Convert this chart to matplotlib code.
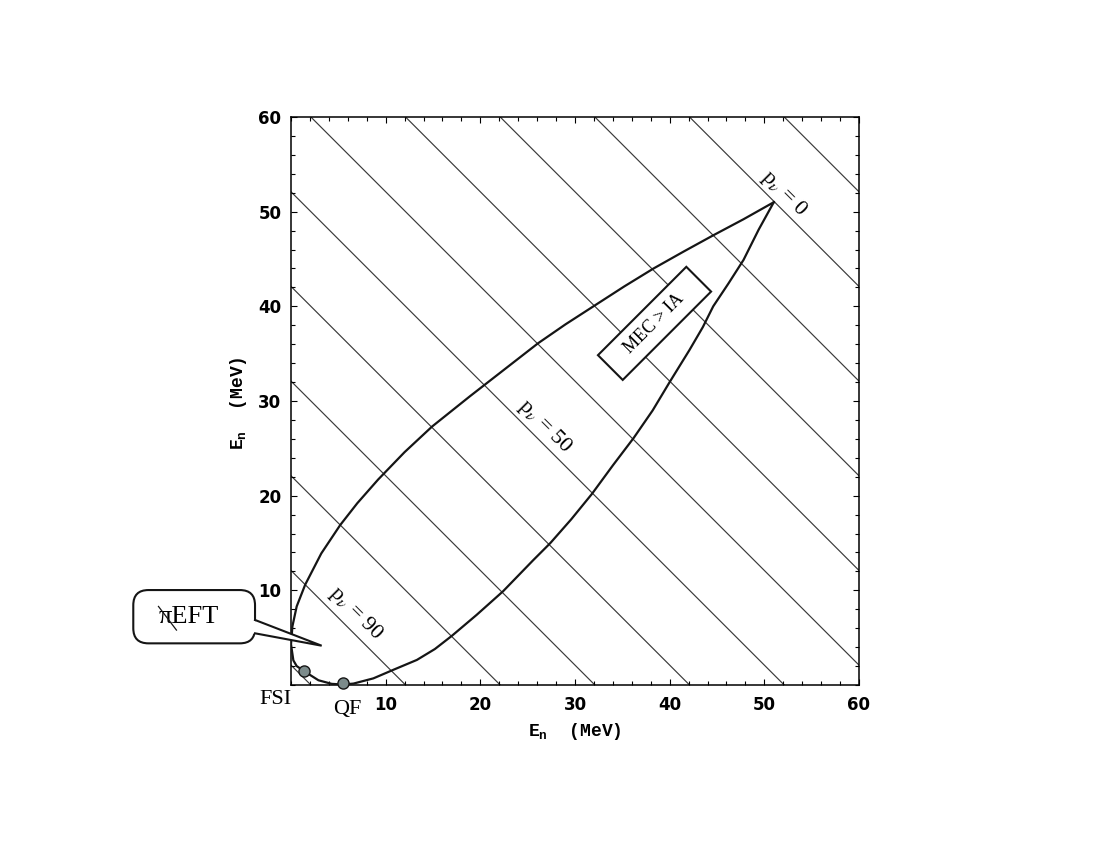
import numpy as np
import matplotlib
matplotlib.use("Agg")
import matplotlib.pyplot as plt
from matplotlib.patches import FancyBboxPatch, Polygon, Rectangle
from matplotlib.ticker import MultipleLocator

plt.rcParams['mathtext.fontset'] = 'custom'
plt.rcParams['mathtext.rm'] = 'Liberation Mono:bold'
plt.rcParams['mathtext.bf'] = 'Liberation Mono:bold'
plt.rcParams['mathtext.it'] = 'Liberation Mono:bold'

# ---- data ----
# kinematic locus (E1, E2) in MeV, closed curve starting at the tip
locus_x = [51.0, 47.8, 44.6, 41.5, 38.3, 35.2, 32.1, 29.0, 26.1, 22.5, 18.9, 14.9,
           12.0, 9.2, 7.0, 5.2, 3.2, 1.5, 0.6, 0.15, 0.0, 0.25, 0.6, 1.4, 2.9, 4.3,
           5.5, 6.6, 8.7, 10.8, 13.3, 15.2, 17.0, 19.6, 22.4, 25.6, 27.4, 29.6,
           31.8, 34.0, 36.2, 38.2, 40.0, 42.1, 43.5, 44.6, 46.2, 47.8, 49.4, 51.0]
locus_y = [51.0, 49.2, 47.5, 45.8, 44.0, 42.1, 40.1, 38.1, 36.1, 33.3, 30.5, 27.3,
           24.6, 21.7, 19.2, 16.9, 13.9, 10.6, 8.3, 6.2, 4.3, 2.6, 2.0, 1.45, 0.5, 0.12,
           0.05, 0.15, 0.7, 1.6, 2.65, 3.8, 5.2, 7.4, 9.9, 13.2, 15.0, 17.5,
           20.2, 23.2, 26.1, 29.0, 32.0, 35.4, 37.8, 40.0, 42.4, 44.9, 48.1, 51.0]

# lines of constant p_nu : E1 + E2 = const
line_sums = [2.1, 12.1, 22.1, 32.1, 42.1, 52.1, 62.1, 72.1, 82.1, 92.1, 102.1, 112.1]

# special points
point_names = ['FSI', 'QF']
point_x = [1.4, 5.46]
point_y = [1.5, 0.18]

ticks = [10, 20, 30, 40, 50, 60]

# ---- figure ----
fig = plt.figure(figsize=(11, 8.5), dpi=100)
ax = fig.add_axes([291/1100, 1-685/850, 568/1100, 568/850])
ax.set_xlim(0, 60)
ax.set_ylim(0, 60)

xs = np.array([0.0, 60.0])
for c in line_sums:
    ax.plot(xs, c - xs, color='#3a3a3a', lw=0.85, zorder=1)

ax.plot(locus_x, locus_y, color='#151515', lw=1.6, zorder=3, solid_joinstyle='round')

ax.plot(point_x, point_y, 'o', ms=8, mfc='#7c8b8b', mec='#151515', mew=1.0,
        zorder=5, clip_on=False)

# tick styling
ax.set_xticks(ticks)
ax.set_yticks(ticks)
ax.xaxis.set_minor_locator(MultipleLocator(2))
ax.yaxis.set_minor_locator(MultipleLocator(2))
ax.tick_params(which='both', direction='in', top=True, right=True, width=0.8)
ax.tick_params(which='major', length=4)
ax.tick_params(which='minor', length=3)
ax.tick_params(axis='x', pad=8)
ax.tick_params(axis='y', pad=7)
for lab in ax.get_xticklabels() + ax.get_yticklabels():
    lab.set_fontfamily('DejaVu Sans')
    lab.set_fontweight('bold')
    lab.set_fontsize(12)
for sp in ax.spines.values():
    sp.set_linewidth(1.1)

ax.set_xlabel(r'E$_\mathrm{n}$  (MeV)', fontfamily='Liberation Mono',
              fontweight='bold', fontsize=13)
ax.set_ylabel(r'E$_\mathrm{n}$  (MeV)', fontfamily='Liberation Mono',
              fontweight='bold', fontsize=13)
ax.xaxis.set_label_coords(0.5, -0.064)
ax.yaxis.set_label_coords(-0.074, 0.4965)

serif = 'Liberation Serif'
# p_nu labels
for txt, (tx, ty) in [('p$_\\nu$ = 0', (52.1, 51.9)),
                      ('p$_\\nu$ = 50', (26.8, 27.3)),
                      ('p$_\\nu$ = 90', (6.8, 7.6))]:
    t = ax.text(tx, ty, txt, rotation=-45, ha='center', va='center',
                fontsize=16, fontfamily=serif, zorder=6)
    t.set_math_fontfamily('stix')

# MEC > IA box
mec_cx, mec_cy, mec_len, mec_wid = 38.4, 38.2, 13.2, 3.7
ax.add_patch(Rectangle((mec_cx - mec_len / 2, mec_cy - mec_wid / 2), mec_len, mec_wid,
                       angle=45, rotation_point='center', fc='white', ec='#151515',
                       lw=1.5, zorder=5))
ax.text(mec_cx, mec_cy, 'MEC > IA', rotation=45, ha='center', va='center',
        fontsize=13, fontfamily=serif, zorder=6)

# FSI / QF labels
ax.text(-1.6, -1.5, point_names[0], ha='center', va='center', fontsize=16,
        fontfamily=serif, clip_on=False)
ax.text(5.9, -2.6, point_names[1], ha='center', va='center', fontsize=16,
        fontfamily=serif, clip_on=False)

# speech bubble with pionless EFT
bx0, bx1, by0, by1 = -16.66, -3.80, 4.40, 10.03
box = FancyBboxPatch((bx0 + 1.3, by0 + 1.3), (bx1 - bx0) - 2.6, (by1 - by0) - 2.6,
                     boxstyle='round,pad=1.3,rounding_size=1.6',
                     fc='white', ec='#151515', lw=1.5, clip_on=False, zorder=4)
ax.add_patch(box)
tip = (3.24, 4.15)
wedge_top, wedge_bot = 6.87, 5.46
wedge = Polygon([(bx1 - 0.3, wedge_top), tip, (bx1 - 0.3, wedge_bot)], closed=True,
                fc='white', ec='none', clip_on=False, zorder=4.5)
ax.add_patch(wedge)
ax.plot([bx1, tip[0], bx1], [wedge_top, tip[1], wedge_bot], color='#151515',
        lw=1.5, clip_on=False, zorder=4.6, solid_joinstyle='miter')
ax.text(-10.8, 7.2, 'πEFT', ha='center', va='center', fontsize=19,
        fontfamily=serif, clip_on=False, zorder=5)
ax.plot([-14.0, -12.1], [8.3, 5.8], color='#151515', lw=0.9, clip_on=False, zorder=5)

fig.savefig('out.png', dpi=100)
